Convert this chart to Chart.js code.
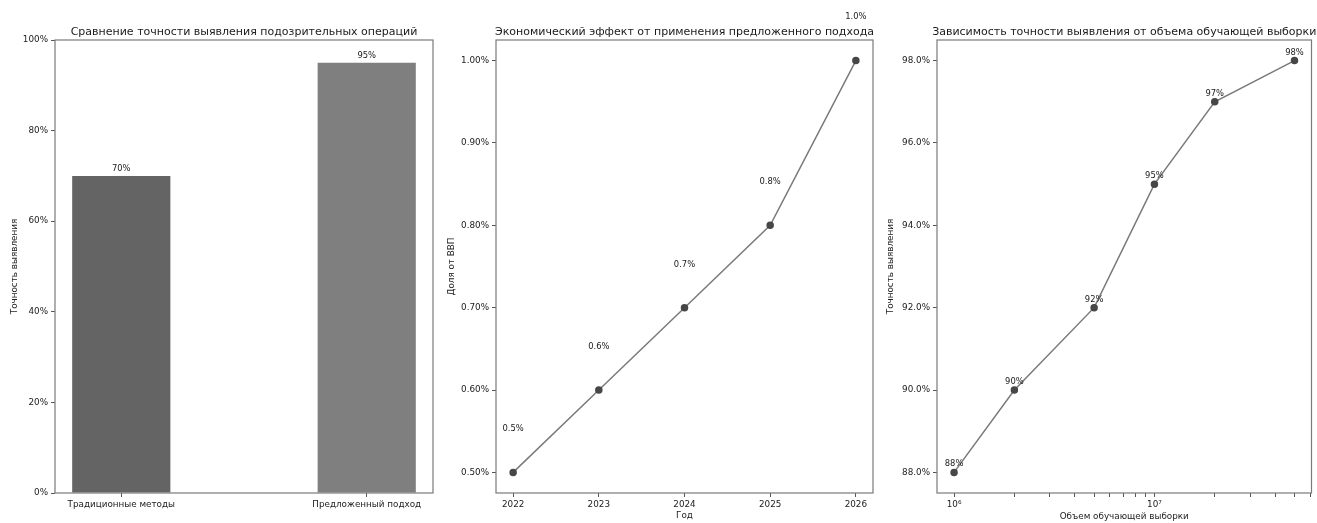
<!DOCTYPE html>
<html>
<head>
<meta charset="utf-8">
<script src="https://cdn.jsdelivr.net/npm/chart.js@4.4.0/dist/chart.umd.min.js"></script>
<style>
  html, body { margin: 0; padding: 0; background: #fff; }
  #wrap { position: relative; width: 1317px; height: 523px; overflow: hidden; }
  canvas { position: absolute; top: 0; }
</style>
</head>
<body>
<div id="wrap">
  <canvas id="c1" width="440" height="523" style="left:0"></canvas>
  <canvas id="c2" width="440" height="523" style="left:440px"></canvas>
  <canvas id="c3" width="437" height="523" style="left:880px"></canvas>
</div>
<script>
// ---------------- DATA ----------------
const methodLabels = ["Традиционные методы", "Предложенный подход"];
const accuracyValues = [70, 95];
const accuracyTicks = [0, 20, 40, 60, 80, 100];

const years = [2022, 2023, 2024, 2025, 2026];
const gdpShare = [0.5, 0.6, 0.7, 0.8, 1.0];
const gdpTicks = [0.5, 0.6, 0.7, 0.8, 0.9, 1.0];

const sampleSizes = [1e6, 2e6, 5e6, 1e7, 2e7, 5e7];
const sizeAccuracy = [88, 90, 92, 95, 97, 98];
const sizeAccTicks = [88, 90, 92, 94, 96, 98];
const sizeTicks = [1e6, 2e6, 3e6, 4e6, 5e6, 6e6, 7e6, 8e6, 9e6, 1e7, 2e7, 3e7, 4e7, 5e7, 6e7];
const sizeTickLabels = { 1000000: "10⁶", 10000000: "10⁷" };

// ---------------- HELPERS ----------------
const FONT = "'DejaVu Sans', sans-serif";
Chart.defaults.font.family = FONT;
Chart.defaults.color = "#222";

// title, frame and value labels drawn on top of each chart
function decor(title, labelFn) {
  return {
    id: "decor",
    afterDatasetsDraw(chart) {
      const { ctx, chartArea: a } = chart;
      ctx.save();
      ctx.strokeStyle = "#7a7a7a";
      ctx.lineWidth = 1.2;
      ctx.strokeRect(a.left, a.top, a.right - a.left, a.bottom - a.top);

      ctx.fillStyle = "#1a1a1a";
      ctx.textAlign = "center";
      ctx.textBaseline = "alphabetic";
      ctx.font = "11px " + FONT;
      ctx.fillText(title, (a.left + a.right) / 2, a.top - 5);

      ctx.font = "8.4px " + FONT;
      const meta = chart.getDatasetMeta(0);
      chart.data.datasets[0].data.forEach((p, i) => {
        const r = labelFn(chart, p, meta.data[i]);
        ctx.fillText(r.text, r.x, r.y);
      });
      ctx.restore();
    }
  };
}

function yAxis(width, title, titlePad, min, max, tickList, fmt) {
  return {
    min, max,
    afterFit(s) { s.width = width; },
    afterBuildTicks(s) { s.ticks = tickList.map(v => ({ value: v })); },
    border: { display: false },
    grid: { drawOnChartArea: false, tickLength: 4, tickColor: "#555", tickWidth: 1 },
    ticks: { font: { size: 8.8 }, padding: 3, callback: fmt },
    title: { display: true, text: title, font: { size: 8.8 }, padding: { top: titlePad, bottom: 0 }, color: "#222" }
  };
}

function xAxis(extra) {
  return Object.assign({
    offset: false,
    afterFit(s) { s.height = 30; },
    border: { display: false },
    grid: { offset: false, drawOnChartArea: false, tickLength: 4, tickColor: "#555", tickWidth: 1 },
    ticks: { font: { size: 8.8 }, padding: 2, maxRotation: 0, autoSkip: false }
  }, extra);
}

const baseOpts = {
  responsive: false,
  animation: false,
  plugins: { legend: { display: false }, tooltip: { enabled: false } }
};

// ---------------- CHART 1: BARS ----------------
new Chart(document.getElementById("c1"), {
  type: "bar",
  data: {
    datasets: [{
      data: accuracyValues.map((v, i) => ({ x: i, y: v })),
      backgroundColor: ["#646464", "#7f7f7f"],
      borderWidth: 0,
      categoryPercentage: 1,
      barPercentage: 0.4
    }]
  },
  options: Object.assign({}, baseOpts, {
    layout: { padding: { top: 40, right: 7, left: 0, bottom: 0 } },
    scales: {
      x: xAxis({
        type: "linear", min: -0.27, max: 1.27,
        afterBuildTicks(s) { s.ticks = methodLabels.map((_, i) => ({ value: i })); },
        ticks: { font: { size: 8.8 }, padding: 2, maxRotation: 0, autoSkip: false, callback: v => methodLabels[v] }
      }),
      y: yAxis(55, "Точность выявления", 9, 0, 100, accuracyTicks, v => v + "%")
    }
  }),
  plugins: [decor("Сравнение точности выявления подозрительных операций", (chart, p, el) => ({
    text: p.y + "%", x: el.x, y: chart.scales.y.getPixelForValue(p.y + 1)
  }))]
});

// ---------------- CHART 2: GDP EFFECT ----------------
new Chart(document.getElementById("c2"), {
  type: "line",
  data: {
    datasets: [{
      data: years.map((yr, i) => ({ x: yr, y: gdpShare[i] })),
      borderColor: "#7a7a7a",
      borderWidth: 1.5,
      pointRadius: 3,
      pointBackgroundColor: "#474747",
      pointBorderColor: "#474747",
      tension: 0
    }]
  },
  options: Object.assign({}, baseOpts, {
    layout: { padding: { top: 40, right: 7, left: 0, bottom: 0 } },
    scales: {
      x: xAxis({
        type: "linear", min: 2021.8, max: 2026.2,
        afterBuildTicks(s) { s.ticks = years.map(v => ({ value: v })); },
        ticks: { font: { size: 8.8 }, padding: 2, maxRotation: 0, autoSkip: false, callback: v => String(v) },
        title: { display: true, text: "Год", font: { size: 8.8 }, padding: { top: 0, bottom: 2 }, color: "#222" }
      }),
      y: yAxis(56, "Доля от ВВП", 6, 0.475, 1.025, gdpTicks, v => v.toFixed(2) + "%")
    }
  }),
  plugins: [decor("Экономический эффект от применения предложенного подхода", (chart, p, el) => ({
    text: p.y.toFixed(1) + "%", x: el.x, y: chart.scales.y.getPixelForValue(p.y + 0.05)
  }))]
});

// ---------------- CHART 3: SAMPLE SIZE ----------------
new Chart(document.getElementById("c3"), {
  type: "line",
  data: {
    datasets: [{
      data: sampleSizes.map((n, i) => ({ x: n, y: sizeAccuracy[i] })),
      borderColor: "#7a7a7a",
      borderWidth: 1.5,
      pointRadius: 3,
      pointBackgroundColor: "#474747",
      pointBorderColor: "#474747",
      tension: 0
    }]
  },
  options: Object.assign({}, baseOpts, {
    layout: { padding: { top: 40, right: 4, left: 0, bottom: 0 } },
    scales: {
      x: xAxis({
        type: "logarithmic", min: 8.22e5, max: 6.08e7,
        afterBuildTicks(s) { s.ticks = sizeTicks.map(v => ({ value: v })); },
        ticks: { font: { size: 8.8 }, padding: 2, maxRotation: 0, autoSkip: false, callback: v => sizeTickLabels[v] || "" },
        title: { display: true, text: "Объем обучающей выборки", font: { size: 8.8 }, padding: { top: 0, bottom: 1 }, color: "#222" }
      }),
      y: yAxis(57, "Точность выявления", 5, 87.5, 98.5, sizeAccTicks, v => v.toFixed(1) + "%")
    }
  }),
  plugins: [decor("Зависимость точности выявления от объема обучающей выборки", (chart, p, el) => ({
    text: p.y + "%", x: el.x, y: el.y - 6
  }))]
});
</script>
</body>
</html>
